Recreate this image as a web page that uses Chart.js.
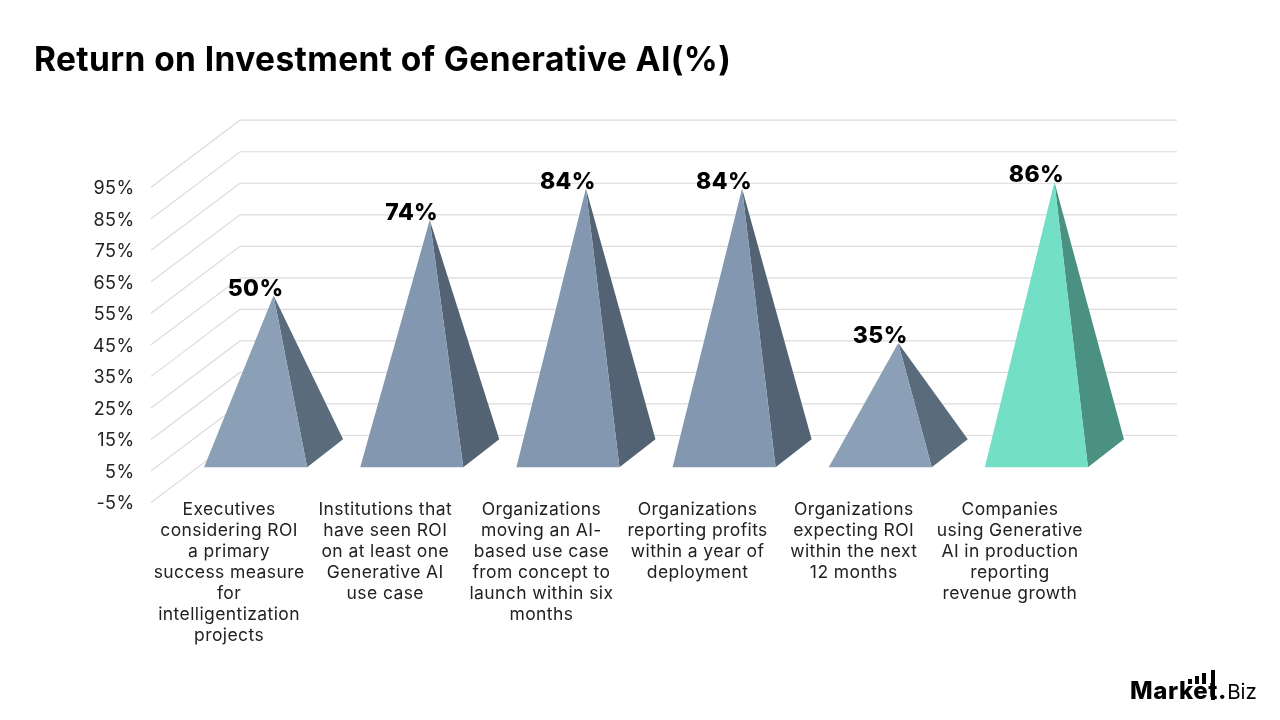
<!DOCTYPE html>
<html lang="en">
<head>
    <title>Return on Investment of Generative AI(%)</title>
    <meta charset="utf-8">
    <script src="https://cdn.jsdelivr.net/npm/chart.js@4/dist/chart.umd.min.js"></script>
    <style>
        html, body { margin: 0; padding: 0; background: #fff; }
        #wrap { position: relative; width: 1280px; height: 720px; overflow: hidden; }
        #roi-chart { display: block; }
        #logo { position: absolute; left: 1130px; top: 676px; font: 800 24px/30px Inter, sans-serif; color: #000; letter-spacing: 0.6px; white-space: nowrap; }
        #logo span { font-weight: 400; font-size: 20.5px; letter-spacing: 0; }
        .tick { position: absolute; width: 4px; background: #000; }
    </style>
</head>
<body>

<div id="wrap">
    <canvas id="roi-chart" width="1280" height="720"></canvas>
    <div id="logo">Market.<span>Biz</span></div>
    <div class="tick" style="left:1188px;top:679px;height:5px"></div>
    <div class="tick" style="left:1195px;top:676px;height:8px"></div>
    <div class="tick" style="left:1202px;top:673px;height:11px"></div>
    <div class="tick" style="left:1211px;top:670px;height:30px"></div>
</div>

<script>
const categories = [
    ['Executives', 'considering ROI', 'a primary', 'success measure', 'for', 'intelligentization', 'projects'],
    ['Institutions that', 'have seen ROI', 'on at least one', 'Generative AI', 'use case'],
    ['Organizations', 'moving an AI-', 'based use case', 'from concept to', 'launch within six', 'months'],
    ['Organizations', 'reporting profits', 'within a year of', 'deployment'],
    ['Organizations', 'expecting ROI', 'within the next', '12 months'],
    ['Companies', 'using Generative', 'AI in production', 'reporting', 'revenue growth']
];
const roiValues = [50, 74, 84, 84, 35, 86];
const axisMin = -5;
const axisMax = 95;
const axisStep = 10;

const faceColors = ['#8ba0b6', '#8397b0', '#8397b0', '#8397b0', '#8ba0b6', '#73dfc6'];
const sideColors = ['#5a6b7c', '#536373', '#536373', '#536373', '#5a6b7c', '#4a9181'];

const fontName = 'Inter, sans-serif';
// how far the back wall sits behind the front plane
const wallDx = 89;
const wallDy = -67;
// half the depth of a pyramid's footprint
const footDx = 18;
const footDy = -14;

const pyramidPlugin = {
    id: 'pyramids',
    afterLayout(chart) {
        // the x labels start above the axis line, keep them out of the scale's clip box
        chart.scales.x.top -= 10;
    },
    beforeDraw(chart) {
        chart.ctx.letterSpacing = '0.4px';
    },
    beforeDatasetsDraw(chart) {
        const ctx = chart.ctx;
        const y = chart.scales.y;
        const left = chart.chartArea.left;
        const right = chart.chartArea.right;
        ctx.save();
        ctx.strokeStyle = '#dcdcdc';
        ctx.lineWidth = 1.2;
        y.ticks.forEach(function(tick) {
            const py = y.getPixelForValue(tick.value);
            ctx.beginPath();
            ctx.moveTo(left, py);
            ctx.lineTo(left + wallDx, py + wallDy);
            ctx.lineTo(right + wallDx, py + wallDy);
            ctx.stroke();

            // tick text sits a little low against the wall lines
            ctx.fillStyle = '#222';
            ctx.font = '400 18px ' + fontName;
            ctx.textAlign = 'right';
            ctx.textBaseline = 'middle';
            ctx.fillText(tick.label, left - 16.5, py + 1.5);
        });
        ctx.restore();
    },
    afterDatasetsDraw(chart) {
        const ctx = chart.ctx;
        ctx.save();
        chart.getDatasetMeta(0).data.forEach(function(bar, i) {
            const midX = bar.x + wallDx / 2;
            const midY = bar.base + wallDy / 2;
            const frontLeft = [midX - footDx - bar.width / 2, midY - footDy];
            const frontRight = [midX - footDx + bar.width / 2, midY - footDy];
            const backRight = [midX + footDx + bar.width / 2, midY + footDy];
            const apex = [midX, bar.y + wallDy / 2];

            ctx.fillStyle = sideColors[i];
            ctx.beginPath();
            ctx.moveTo(frontRight[0], frontRight[1]);
            ctx.lineTo(backRight[0], backRight[1]);
            ctx.lineTo(apex[0], apex[1]);
            ctx.closePath();
            ctx.fill();

            ctx.fillStyle = faceColors[i];
            ctx.beginPath();
            ctx.moveTo(frontLeft[0], frontLeft[1]);
            ctx.lineTo(frontRight[0], frontRight[1]);
            ctx.lineTo(apex[0], apex[1]);
            ctx.closePath();
            ctx.fill();

            ctx.fillStyle = '#000';
            ctx.font = '800 23px ' + fontName;
            ctx.textAlign = 'center';
            ctx.textBaseline = 'middle';
            ctx.fillText(roiValues[i] + '%', midX - footDx, apex[1] - 6.5);
        });
        ctx.restore();
    }
};

new Chart(document.getElementById('roi-chart'), {
    type: 'bar',
    data: {
        labels: categories,
        datasets: [{
            data: roiValues,
            backgroundColor: 'transparent',
            categoryPercentage: 0.66,
            barPercentage: 1
        }]
    },
    options: {
        responsive: false,
        animation: false,
        layout: { padding: { left: 34, right: 192, top: 0, bottom: 0 } },
        plugins: {
            legend: { display: false },
            tooltip: { enabled: false },
            title: {
                display: true,
                text: 'Return on Investment of Generative AI(%)',
                align: 'start',
                color: '#000',
                font: { family: fontName, size: 33.5, weight: '700', lineHeight: 1.2 },
                padding: { top: 40.5, bottom: 106.5 }
            }
        },
        scales: {
            x: {
                grid: { display: false, drawTicks: false },
                border: { display: false },
                afterFit(scale) { scale.height = 217.5; },
                ticks: {
                    autoSkip: false,
                    maxRotation: 0,
                    minRotation: 0,
                    padding: 6.5,
                    color: '#222',
                    font: { family: fontName, size: 17.5, lineHeight: 1.205 }
                }
            },
            y: {
                min: axisMin,
                max: axisMax,
                grid: { display: false, drawTicks: false },
                border: { display: false },
                afterFit(scale) { scale.width = 117; },
                ticks: {
                    display: false,
                    stepSize: axisStep,
                    callback: function(value) { return value + '%'; }
                }
            }
        }
    },
    plugins: [pyramidPlugin]
});
</script>
</body>
</html>
